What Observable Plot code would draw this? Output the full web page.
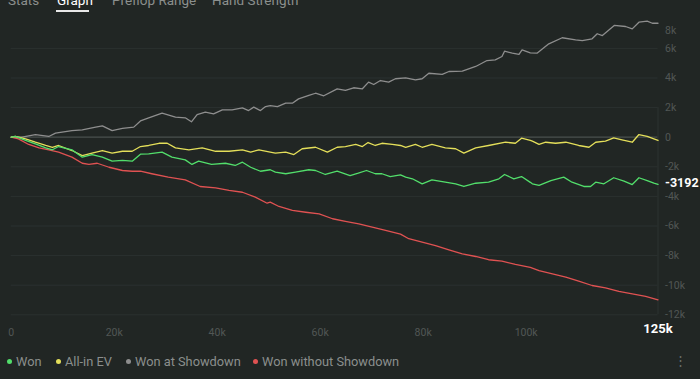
<!DOCTYPE html>
<html>
<head>
<meta charset="utf-8">
<script src="https://cdn.jsdelivr.net/npm/d3@7"></script>
<script src="https://cdn.jsdelivr.net/npm/@observablehq/plot@0.6"></script>
<style>
  html, body { margin: 0; padding: 0; background: #212624; }
  body { width: 700px; height: 379px; overflow: hidden; position: relative; font-family: Roboto, "Noto Sans", sans-serif; }
  #tabs { position: absolute; top: -7px; left: 0; width: 700px; height: 14px; font-size: 13.5px; line-height: 14px; color: #8b8f8d; z-index: 2; }
  #tabs span { position: absolute; top: 0; white-space: nowrap; }
  #tabs .active { color: #ffffff; }
  #underline { position: absolute; left: 56px; top: 10px; width: 33px; height: 2px; background: #e8e8e8; z-index: 2; }
  #chart { position: absolute; top: 0; left: 0; }
  #legend { position: absolute; top: 354px; left: 0; width: 700px; height: 16px; font-size: 12.8px; line-height: 16px; color: #8b8f8d; }
  #legend .item { position: absolute; top: 0; white-space: nowrap; }
  #legend .dot { display: inline-block; width: 5px; height: 5px; border-radius: 50%; margin-right: 4px; vertical-align: 2px; }
  #menu { position: absolute; left: 674px; top: 353px; color: #6a6f6d; font-size: 13px; line-height: 16px; }
</style>
</head>
<body>
<div id="tabs"></div>
<div id="underline"></div>
<div id="chart"></div>
<div id="legend"></div>
<div id="menu">⋮</div>
<script>
// ---- data (hands in thousands, amounts in thousands) ----
const tabNames = ["Stats", "Graph", "Preflop Range", "Hand Strength"];
const seriesNames = ["Won", "All-in EV", "Won at Showdown", "Won without Showdown"];
const seriesColors = ["#52de6b", "#e4df5a", "#8e8e8e", "#e05252"];
const xTicks = [0, 20, 40, 60, 80, 100];
const yTicks = [6, 4, 2, 0, -2, -4, -6, -8, -10, -12];
const yTopTick = [8];
const totalHandsLabel = "125k";

const wonAtShowdown = [[0,0],[2.1,0],[4.7,0.18],[7.3,0.05],[8.6,0.27],[11.8,0.45],[13.8,0.5],[16.4,0.68],[17.7,0.77],[19.6,0.45],[21.6,0.59],[23.8,0.68],[25.1,1.1],[26.7,1.31],[29.3,1.62],[31.9,1.35],[33.8,1.31],[35.0,1.04],[36.1,1.53],[37.7,1.69],[39.3,1.58],[41,1.85],[42.9,1.85],[44.9,1.98],[46.1,1.8],[47.1,2.03],[48.4,1.8],[49.4,2.07],[50.3,2.14],[51.7,2.07],[53.3,2.3],[54.6,2.3],[55.8,2.59],[57.8,2.82],[59.1,2.97],[60.7,2.8],[63.3,3.27],[64.9,3.16],[66.5,3.34],[68.2,3.27],[69.4,3.72],[70.4,3.56],[71.7,3.83],[73.3,3.72],[74.6,3.95],[76.6,4.01],[78.5,3.88],[79.8,3.95],[81.1,4.32],[83.7,4.24],[85,4.44],[87.6,4.46],[90.2,4.78],[92.4,5.18],[94,5.23],[95.3,5.45],[95.8,5.81],[97.3,5.68],[98.6,5.59],[99.2,5.9],[100.8,5.7],[102.1,5.68],[104.4,6.31],[107,6.72],[109.6,6.58],[110.9,6.53],[112.8,6.65],[113.8,6.99],[114.8,6.87],[117.1,7.55],[119.3,7.48],[120.6,7.32],[121.9,7.77],[123.5,7.84],[124.5,7.7],[125.6,7.7]];

const allInEV = [[0,0],[0.8,0.05],[2.8,-0.11],[4.7,-0.34],[6.7,-0.56],[8,-0.68],[9.2,-0.56],[11.8,-0.9],[13.8,-1.24],[15.7,-1.08],[17.7,-0.9],[19.6,-1.08],[21.6,-0.95],[23.5,-0.95],[25.1,-0.63],[26.7,-0.56],[28.7,-0.41],[30.3,-0.41],[31.9,-0.72],[34.5,-0.85],[37.1,-0.72],[39.7,-0.95],[42.3,-0.95],[44.9,-0.85],[46.5,-1.01],[48.1,-0.85],[50.3,-1.01],[51.3,-1.08],[53.3,-1.01],[54.9,-1.17],[56.5,-0.78],[59.1,-0.68],[61.4,-1.01],[63.3,-0.68],[64.9,-0.63],[66.9,-0.49],[68.2,-0.63],[69.3,-0.36],[70.7,-0.56],[72,-0.41],[74,-0.49],[75.6,-0.56],[76.6,-0.68],[78.5,-0.49],[79.8,-0.68],[81.7,-0.49],[84.3,-0.72],[86.3,-0.78],[87.9,-1.08],[90.2,-0.72],[92.7,-0.56],[96,-0.34],[97.9,-0.41],[99.1,-0.07],[100.8,-0.22],[101.2,-0.27],[102.5,-0.49],[103.8,-0.34],[105.7,-0.41],[107.7,-0.34],[110.2,-0.56],[112.2,-0.68],[113.5,-0.34],[115.4,-0.27],[117,-0.04],[118.6,-0.18],[120.6,-0.34],[121.9,0.18],[123.5,0.05],[124.8,-0.11],[125.6,-0.22]];

const won = [[0,0],[0.8,0.05],[2.8,-0.22],[4.7,-0.45],[6.7,-0.72],[8,-0.85],[9.2,-0.63],[11.8,-0.85],[13.8,-1.35],[15.7,-1.17],[17.7,-1.35],[19.6,-1.62],[21.6,-1.57],[23.5,-1.62],[25.1,-1.15],[26.7,-1.12],[29.3,-1.01],[31.2,-1.35],[33.8,-1.53],[35.1,-1.84],[36.4,-1.62],[38.9,-1.84],[41.6,-1.76],[43.5,-1.91],[44.9,-1.69],[46.5,-2.03],[48.4,-2.3],[50.3,-2.2],[51.3,-2.36],[53.3,-2.47],[55.2,-2.36],[57.8,-2.2],[59.1,-2.25],[61,-2.52],[63.3,-2.3],[65.8,-2.59],[67.4,-2.43],[69,-2.25],[70.7,-2.47],[72,-2.47],[73.6,-2.66],[75.6,-2.55],[76.6,-2.7],[77.9,-2.81],[79.8,-3.15],[81.7,-2.88],[84.3,-3.04],[86.3,-3.15],[87.9,-3.33],[90.2,-3.11],[92.7,-3.04],[94.7,-2.81],[95.8,-2.52],[97.6,-2.81],[99.1,-2.66],[100.8,-3.05],[101.2,-3.15],[102.5,-3.26],[104.8,-2.93],[107.3,-2.7],[108.9,-3.04],[111.2,-3.33],[112.5,-3.33],[113.5,-3.04],[115.1,-3.15],[117,-2.74],[119,-2.97],[120.6,-3.2],[121.9,-2.74],[123.5,-2.93],[124.8,-3.11],[125.6,-3.192]];

const wonWithoutShowdown = [[0,0],[1.4,-0.11],[3.4,-0.49],[5.4,-0.72],[7.3,-0.85],[9.2,-1.01],[11.8,-1.35],[13.8,-1.76],[15.1,-1.84],[16.7,-1.76],[19,-2.03],[21.6,-2.25],[23.5,-2.3],[25.1,-2.3],[27.3,-2.47],[30.5,-2.7],[33.8,-2.88],[36.7,-3.33],[39.7,-3.42],[42.3,-3.6],[44.9,-3.72],[47.4,-4.05],[49.7,-4.46],[50.3,-4.39],[52,-4.68],[54.6,-4.95],[57.2,-5.07],[59.8,-5.18],[62.4,-5.51],[64.9,-5.68],[67.5,-5.85],[70.1,-6.08],[72.7,-6.3],[75.6,-6.55],[77.2,-6.86],[79.8,-7.09],[82.4,-7.32],[85,-7.61],[87.6,-7.88],[90.2,-8.06],[92.7,-8.28],[95.3,-8.38],[97.9,-8.6],[100.8,-8.8],[102.5,-9.01],[105.1,-9.23],[107.7,-9.46],[110.2,-9.73],[112.8,-10.02],[115.4,-10.18],[118,-10.41],[120.6,-10.58],[123.2,-10.76],[125.6,-10.99]];

// ---- header tabs ----
const tabLefts = [8, 57, 112, 212];
const tabs = document.getElementById("tabs");
tabNames.forEach((t, i) => {
  const s = document.createElement("span");
  s.textContent = t;
  s.style.left = tabLefts[i] + "px";
  if (t === "Graph") s.className = "active";
  tabs.appendChild(s);
});

// ---- chart ----
const W = 700, H = 342;
const xEnd = won[won.length - 1][0];
const fmt = d => d === 0 ? "0" : d + "k";
const lastWon = won[won.length - 1];
const lines = [wonAtShowdown, wonWithoutShowdown, allInEV, won];
const lineColors = [seriesColors[2], seriesColors[3], seriesColors[1], seriesColors[0]];

const marks = [
  Plot.ruleY(yTicks.filter(d => d !== 0), {stroke: "#2b3130", strokeWidth: 1}),
  Plot.ruleY([0], {stroke: "#4a504e", strokeWidth: 1.3}),
  Plot.ruleX([xEnd], {y1: 2, y2: -12, stroke: "#2d3331", strokeWidth: 1}),
  Plot.axisY(yTicks, {anchor: "right", tickSize: 0, tickPadding: 7, tickFormat: fmt, fill: "#525755", fontSize: 10.5}),
  Plot.text(yTopTick, {y: d => d, frameAnchor: "right", dx: 7, dy: 11.5, textAnchor: "start", text: fmt, fill: "#525755", fontSize: 10.5}),
  Plot.axisX(xTicks, {anchor: "bottom", tickSize: 0, tickPadding: 14, tickFormat: fmt, fill: "#525755", fontSize: 10.5})
];
lines.forEach((data, i) => {
  marks.push(Plot.line(data, {x: d => d[0], y: d => d[1], stroke: lineColors[i], strokeWidth: 1.3, strokeLinejoin: "round"}));
});
marks.push(Plot.text([lastWon], {x: d => d[0], y: d => d[1], text: d => String(Math.round(d[1] * 1000)), dx: 7, dy: -1, textAnchor: "start", fill: "#ffffff", fontWeight: "bold", fontSize: 12.5}));
marks.push(Plot.text([xEnd], {x: d => d, frameAnchor: "bottom", dy: 18, text: () => totalHandsLabel, fill: "#ffffff", fontWeight: "bold", fontSize: 13}));

const chart = Plot.plot({
  width: W, height: H,
  marginLeft: 10.7, marginRight: W - 657.5, marginTop: 18.3, marginBottom: H - 314.3,
  style: {background: "transparent", fontFamily: "Roboto, 'Noto Sans', sans-serif", overflow: "visible"},
  x: {domain: [0, xEnd]},
  y: {domain: [-12, 8]},
  marks
});
document.getElementById("chart").appendChild(chart);

// ---- legend ----
const legendLefts = [7, 56, 126, 253];
const legend = document.getElementById("legend");
seriesNames.forEach((n, i) => {
  const it = document.createElement("div");
  it.className = "item";
  it.style.left = legendLefts[i] + "px";
  const dot = document.createElement("span");
  dot.className = "dot";
  dot.style.background = seriesColors[i];
  it.appendChild(dot);
  it.appendChild(document.createTextNode(n));
  legend.appendChild(it);
});
</script>
</body>
</html>
